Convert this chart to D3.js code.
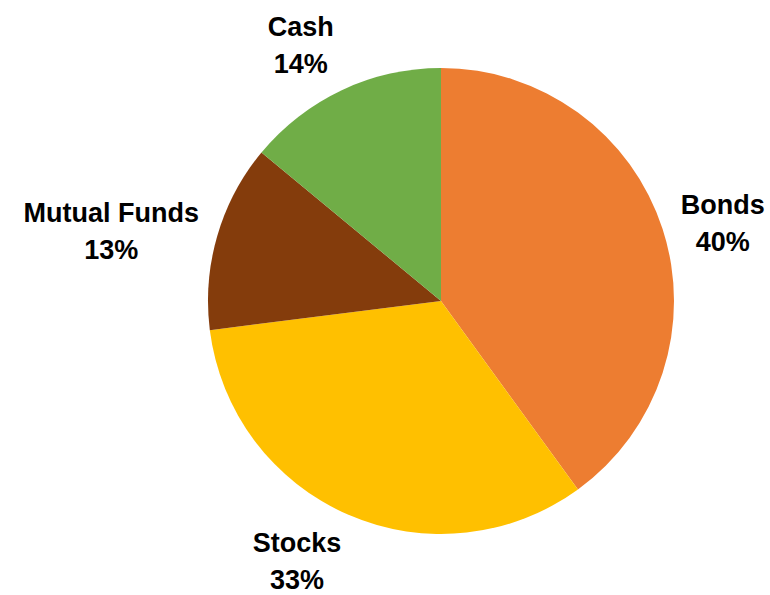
<!DOCTYPE html>
<html>
<head>
<meta charset="utf-8">
<script src="https://cdn.jsdelivr.net/npm/d3@7"></script>
<style>
  html, body { margin: 0; padding: 0; background: #ffffff; }
  svg { display: block; }
</style>
</head>
<body>
<div id="chart"></div>
<script>
const categories = ["Bonds", "Stocks", "Mutual Funds", "Cash"];
const shares = [40, 33, 13, 14];
const colors = ["#ED7D31", "#FFC000", "#843C0C", "#70AD47"];

const width = 770;
const height = 595;
const cx = 441;
const cy = 301;
const radius = 233;

const svg = d3.select("#chart")
    .append("svg")
    .attr("width", width)
    .attr("height", height);

const chart = svg.append("g")
    .attr("transform", `translate(${cx}, ${cy})`);

const data = categories.map((c, i) => ({ label: c, value: shares[i], color: colors[i] }));

const pie = d3.pie()
    .sort(null)
    .value(d => d.value);

const arc = d3.arc()
    .innerRadius(0)
    .outerRadius(radius);

const arcs = pie(data);

chart.selectAll("path")
    .data(arcs)
    .enter()
    .append("path")
    .attr("d", arc)
    .style("fill", d => d.data.color);

// best-fit style labels: an anchor point on the mid angle, the text block
// hangs off it on the outer side
const anchorRadius = radius + 19;
const fontSize = 27;
const lineHeight = 37;
const capHeight = fontSize * 0.72;
const inkHeight = lineHeight + capHeight;
const clamp = v => Math.max(-1, Math.min(1, v));

const labels = chart.selectAll(".label")
    .data(arcs)
    .enter()
    .append("text")
    .attr("class", "label")
    .attr("text-anchor", "middle")
    .style("font-family", "'Liberation Sans', Arial, sans-serif")
    .style("font-weight", "700")
    .style("font-size", fontSize + "px")
    .style("fill", "#000000");

labels.append("tspan")
    .attr("x", 0)
    .attr("dy", 0)
    .text(d => d.data.label);

labels.append("tspan")
    .attr("x", 0)
    .attr("dy", lineHeight)
    .text(d => Math.round(d.data.value) + "%");

labels.each(function(d) {
    const box = this.getBBox();
    const a = (d.startAngle + d.endAngle) / 2;
    const sx = Math.sin(a);
    const sy = -Math.cos(a);
    const fx = clamp(sx * 2.5);
    const fy = Math.sign(sy) * Math.max(0, Math.min(1, (Math.abs(sy) - 0.3) / 0.5));
    const px = anchorRadius * sx + (box.width / 2) * fx;
    const py = anchorRadius * sy + (inkHeight / 2) * fy;
    const ty = py - (lineHeight - capHeight) / 2;
    d3.select(this).attr("transform", `translate(${px}, ${ty})`);
});
</script>
</body>
</html>
